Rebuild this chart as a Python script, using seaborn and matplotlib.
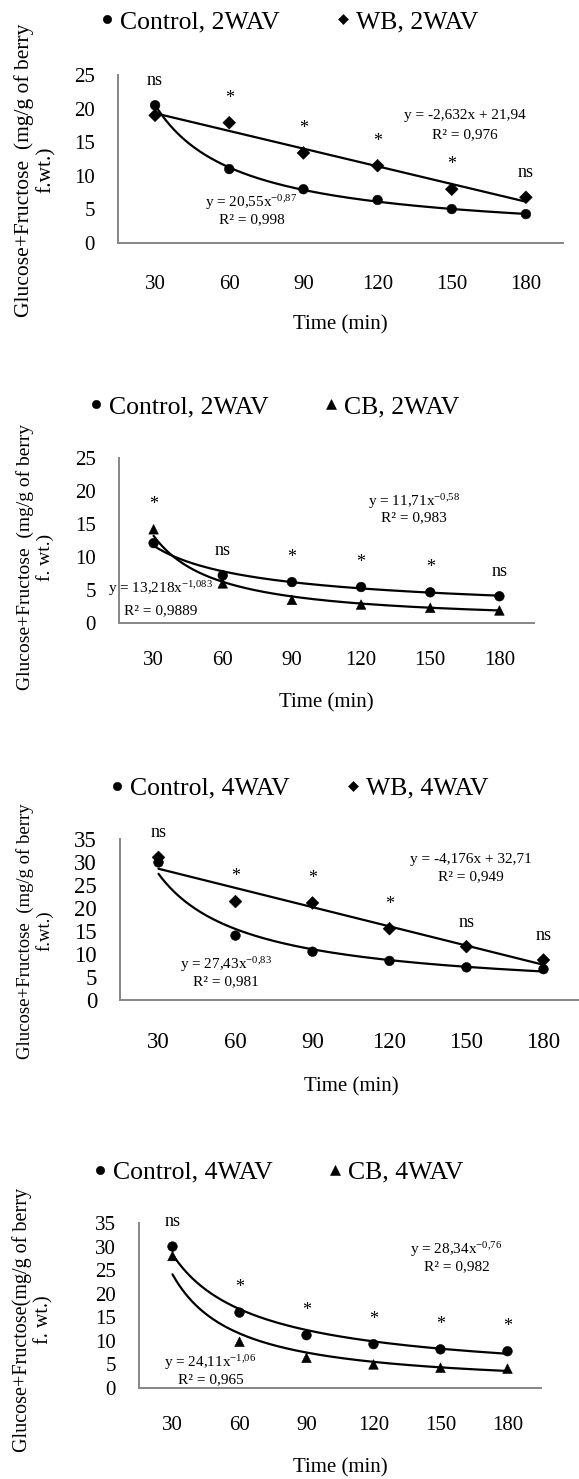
import numpy as np
import pandas as pd
import matplotlib
matplotlib.use("Agg")
import matplotlib.pyplot as plt
import seaborn as sns

# 시간축 (min)
times = [30, 60, 90, 120, 150, 180]

# 1: Control vs WB, 2WAV
ctrl_2wav_a = [20.5, 11.0, 8.0, 6.4, 5.05, 4.3]
wb_2wav = [19.0, 17.9, 13.4, 11.5, 8.0, 6.8]
sig_1 = ['ns', '*', '*', '*', '*', 'ns']

# 2: Control vs CB, 2WAV
ctrl_2wav_b = [12.1, 7.2, 6.2, 5.45, 4.65, 4.05]
cb_2wav = [14.2, 6.0, 3.5, 2.8, 2.3, 1.9]
sig_2 = ['*', 'ns', '*', '*', '*', 'ns']

# 3: Control vs WB, 4WAV
ctrl_4wav_a = [29.9, 14.0, 10.5, 8.5, 7.1, 6.7]
wb_4wav = [31.0, 21.4, 21.1, 15.5, 11.6, 8.7]
sig_3 = ['ns', '*', '*', '*', 'ns', 'ns']

# 4: Control vs CB, 4WAV
ctrl_4wav_b = [30.0, 16.0, 11.2, 9.3, 8.2, 7.8]
cb_4wav = [28.0, 9.8, 6.4, 5.0, 4.3, 4.1]
sig_4 = ['ns', '*', '*', '*', '*', '*']

# 추세선 계수 (엑셀 식): ('pow', a, b) -> a*x^b, ('lin', m, c) -> m*x + c
fit_1 = [('pow', 20.55, -0.87), ('lin', -2.632, 21.94)]
fit_2 = [('pow', 11.71, -0.58), ('pow', 13.218, -1.083)]
fit_3 = [('pow', 27.43, -0.83), ('lin', -4.176, 32.71)]
fit_4 = [('pow', 28.34, -0.76), ('pow', 24.11, -1.06)]

eq_1 = [('y = 20,55x$^{-0{,}87}$', 'R² = 0,998'), ('y = -2,632x + 21,94', 'R² = 0,976')]
eq_2 = [('y = 11,71x$^{-0{,}58}$', 'R² = 0,983'), ('y = 13,218x$^{-1{,}083}$', 'R² = 0,9889')]
eq_3 = [('y = 27,43x$^{-0{,}83}$', 'R² = 0,981'), ('y = -4,176x + 32,71', 'R² = 0,949')]
eq_4 = [('y = 28,34x$^{-0{,}76}$', 'R² = 0,982'), ('y = 24,11x$^{-1{,}06}$', 'R² = 0,965')]

ylab_a = 'Glucose+Fructose  (mg/g of berry\nf.wt.)'
ylab_b = 'Glucose+Fructose  (mg/g of berry\nf. wt.)'
ylab_c = 'Glucose+Fructose(mg/g of berry\nf. wt.)'

sns.set_theme(style='white', rc={'text.color': 'black', 'xtick.color': 'black',
                                 'ytick.color': 'black', 'axes.labelcolor': 'black'})
plt.rcParams['font.family'] = ['Liberation Serif', 'DejaVu Serif']
plt.rcParams['mathtext.fontset'] = 'custom'
plt.rcParams['mathtext.rm'] = 'Liberation Serif'
plt.rcParams['mathtext.it'] = 'Liberation Serif:italic'
plt.rcParams['axes.unicode_minus'] = False

W, H = 579, 1479
fig = plt.figure(figsize=(W / 100, H / 100), dpi=100)
GRAY = '#868686'
LEG_MS = {'o': 6.0, 'D': 5.0, '^': 7.0}


def draw_panel(box, names, values, markers, sizes, fits, sig, eqs, eq_pos, ytop,
               tick_pad, leg_xy, ylab, ylab_xy, ylab_fs, xlab_y, tick_fs=15):
    left, right, top, bottom = box
    ax = fig.add_axes([left / W, 1 - bottom / H, (right - left) / W, (bottom - top) / H])
    pos = np.arange(1, 7)

    # 추세선
    xs = np.linspace(1, 6, 200)
    for kind, a, b in fits:
        ys = a * xs ** b if kind == 'pow' else a * xs + b
        sns.lineplot(x=xs, y=ys, color='black', linewidth=1.6, ax=ax)

    df = pd.DataFrame({'pos': np.tile(pos, 2),
                       'value': list(values[0]) + list(values[1]),
                       'series': np.repeat(names, 6)})
    sns.scatterplot(data=df, x='pos', y='value', hue='series', style='series', size='series',
                    palette={n: 'black' for n in names},
                    markers=dict(zip(names, markers)), sizes=dict(zip(names, sizes)),
                    edgecolor='black', linewidth=0.4, ax=ax, zorder=3)

    # 유의성 표시
    top_vals = np.maximum(values[0], values[1])
    for p, v, s in zip(pos, top_vals, sig):
        ax.annotate(s, (p, v), xytext=(0, 14.5), textcoords='offset points',
                    ha='center', va='baseline', fontsize=13, annotation_clip=False)

    # 식 / R²
    for (eq, r2), (fx, fy1, fy2) in zip(eqs, eq_pos):
        ax.text(fx, fy1, eq, transform=ax.transAxes, ha='center', va='center', fontsize=11)
        ax.text(fx, fy2, r2, transform=ax.transAxes, ha='center', va='center', fontsize=11)

    ax.set_xlim(0.5, 6.5)
    ax.set_ylim(0, ytop)
    ax.set_xticks(pos, times)
    ax.set_yticks(np.arange(0, ytop + 1, 5))
    ax.tick_params(axis='x', length=0, pad=tick_pad, labelsize=tick_fs)
    ax.tick_params(axis='y', length=4.5, width=1.2, color=GRAY, pad=12, labelsize=tick_fs)
    sns.despine(ax=ax)
    for sp in ['left', 'bottom']:
        ax.spines[sp].set_color(GRAY)
        ax.spines[sp].set_linewidth(1.4)

    ax.set_ylabel('')
    ax.set_xlabel('Time (min)', fontsize=15)
    ax.xaxis.label.set_va('center')
    ax.xaxis.set_label_coords(0.5, (bottom - xlab_y) / (bottom - top))

    fig.text(ylab_xy[0] / W, 1 - ylab_xy[1] / H, ylab, rotation=90, ha='center', va='center',
             multialignment='center', fontsize=ylab_fs, linespacing=1.15)

    sns.move_legend(ax, 'center', bbox_to_anchor=(leg_xy[0] / W, 1 - leg_xy[1] / H),
                    bbox_transform=fig.transFigure, ncol=2, frameon=False, title=None,
                    fontsize=18.5, handletextpad=0.05, columnspacing=2.0, handlelength=0.9)
    for h, m in zip(ax.get_legend().legend_handles, markers):
        h.set_markersize(LEG_MS[m])
    return ax


draw_panel((118, 563, 75, 243), ['Control, 2WAV', 'WB, 2WAV'], [ctrl_2wav_a, wb_2wav],
           ['o', 'D'], [48, 42], fit_1, sig_1, eq_1,
           [(0.30, 0.238, 0.139), (0.78, 0.756, 0.647)], 25,
           23, (287, 22), ylab_a, (35, 170), 15.5, 325)

draw_panel((119, 534, 458, 623), ['Control, 2WAV', 'CB, 2WAV'], [ctrl_2wav_b, cb_2wav],
           ['o', '^'], [48, 48], fit_2, sig_2, eq_2,
           [(0.71, 0.737, 0.636), (0.10, 0.206, 0.075)], 25,
           20, (272, 407), ylab_b, (35, 557), 14, 703)

draw_panel((120, 582, 839, 1000), ['Control, 4WAV', 'WB, 4WAV'], [ctrl_4wav_a, wb_4wav],
           ['o', 'D'], [48, 42], fit_3, sig_3, eq_3,
           [(0.23, 0.218, 0.114), (0.76, 0.871, 0.763)], 35,
           23, (297, 788), ylab_a, (35, 931), 13.5, 1087, tick_fs=16.5)

draw_panel((139, 541, 1223, 1388), ['Control, 4WAV', 'CB, 4WAV'], [ctrl_4wav_b, cb_4wav],
           ['o', '^'], [48, 48], fit_4, sig_4, eq_4,
           [(0.79, 0.842, 0.736), (0.178, 0.152, 0.05)], 35,
           20, (276, 1172), ylab_c, (33, 1320), 14.5, 1468)

fig.savefig('out.png', dpi=100)
